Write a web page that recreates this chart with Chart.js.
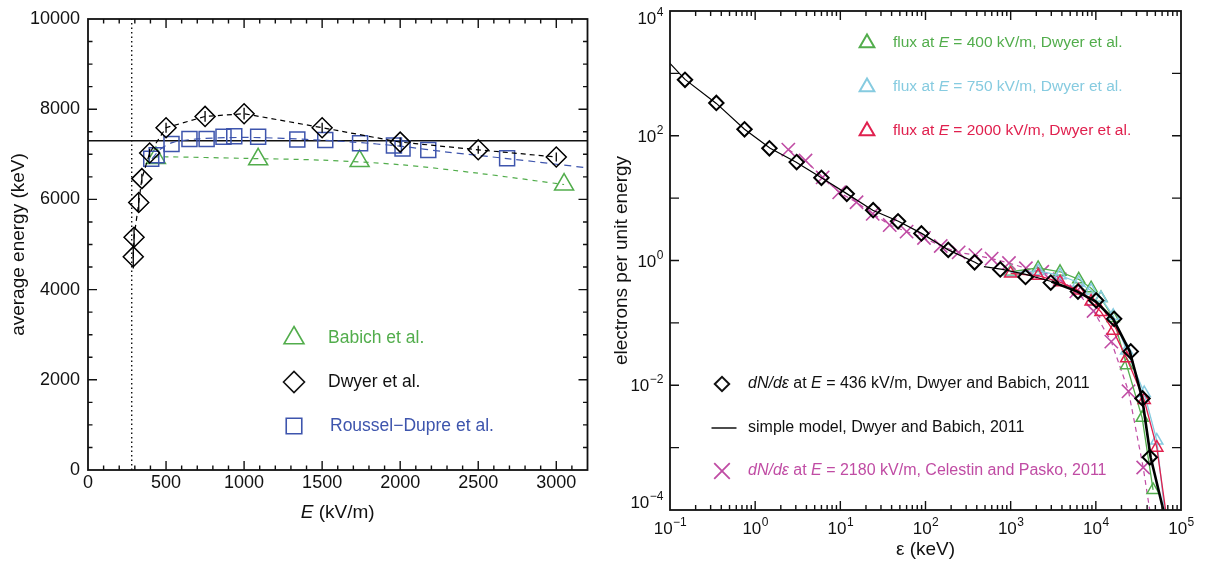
<!DOCTYPE html>
<html>
<head>
<meta charset="utf-8">
<script src="https://cdn.jsdelivr.net/npm/chart.js@4.4.1/dist/chart.umd.min.js"></script>
<style>
  body { margin: 0; background: #fff; width: 1207px; height: 565px; overflow: hidden; position: relative; }
  canvas { position: absolute; top: 0; }
  #left { left: 0; }
  #right { left: 600px; }
</style>
</head>
<body>
<canvas id="left" width="600" height="565"></canvas>
<canvas id="right" width="607" height="565"></canvas>
<script>
const FONT = '"Liberation Sans", Arial, Helvetica, sans-serif';

// ---------- left panel: average energy vs field ----------
const leftXTicks = [0, 500, 1000, 1500, 2000, 2500, 3000];
const leftYTicks = [0, 2000, 4000, 6000, 8000, 10000];
const thresholdField = 280;      // dotted vertical line (kV/m)
const simpleModelEnergy = 7300;  // solid horizontal line (keV)

const babichField = [435, 1090, 1740, 3050];
const babichEnergy = [6920, 6890, 6850, 6330];
const babichFitField = [420, 500, 1000, 1500, 2000, 2500, 3050];
const babichFitEnergy = [6940, 6945, 6910, 6870, 6770, 6580, 6330];

const dwyerField = [290, 295, 325, 345, 395, 500, 750, 1000, 1500, 2000, 2500, 3000];
const dwyerEnergy = [4730, 5160, 5930, 6460, 7030, 7590, 7840, 7900, 7590, 7270, 7100, 6940];
const dwyerErr = [260, 220, 200, 110, 90, 110, 120, 130, 110, 100, 90, 100];

const rousselField = [405, 440, 535, 650, 760, 868, 937, 1090, 1341, 1520, 1743, 1960, 2015, 2180, 2685];
const rousselEnergy = [6900, 6980, 7230, 7340, 7340, 7390, 7400, 7390, 7330, 7315, 7245, 7195, 7130, 7095, 6910];
const rousselFitField = [410, 470, 550, 700, 900, 1100, 1400, 1700, 2000, 2300, 2700, 3200];
const rousselFitEnergy = [6900, 7130, 7270, 7340, 7370, 7370, 7330, 7270, 7180, 7050, 6900, 6700];

// ---------- right panel: spectra ----------
const epsDecades = [-1, 0, 1, 2, 3, 4, 5];
const dnLabelDecades = [-4, -2, 0, 2, 4];
const dnTickDecades = [-4, -3, -2, -1, 0, 1, 2, 3, 4];

const dwyerEps = [0.15, 0.35, 0.75, 1.47, 3.07, 6.0, 11.9, 24.3, 47.6, 89.5, 185, 377, 755, 1494, 2956, 6170, 10100, 16400, 25700, 35300, 43000];
const dwyerDnde = [789, 336, 127, 63, 37.8, 21.2, 11.7, 6.4, 4.25, 2.72, 1.48, 0.936, 0.72, 0.546, 0.442, 0.318, 0.229, 0.116, 0.0349, 0.00615, 0.0007];

const modelEps = [0.1, 0.15, 0.35, 0.75, 1.5, 3, 6, 12, 24, 48, 90, 185, 380, 424, 450, 485, 800, 1500, 3000, 6000, 10000, 16000, 25000, 35000, 44000, 62000, 68000];
const modelDnde = [1450, 800, 330, 127, 63, 38, 21.2, 11.7, 6.4, 4.25, 2.72, 1.48, 0.94, 0.86, null, 0.8, 0.72, 0.6, 0.46, 0.32, 0.22, 0.115, 0.035, 0.0062, 0.0007, 0.0001, 0.00005];

const celestinEps = [2.45, 3.9, 6.2, 9.7, 15.5, 24, 38, 60, 96, 151, 245, 385, 598, 955, 1510, 2350, 3770, 5900, 9400, 15200, 24200, 36000];
const celestinDnde = [60, 40, 21.5, 12.4, 8.6, 5.6, 3.7, 2.9, 2.3, 1.71, 1.35, 1.22, 1.07, 0.91, 0.75, 0.66, 0.5, 0.32, 0.155, 0.05, 0.008, 0.00048];
const celestinTail = [44000, 0.00008];

const flux400Eps = [1000, 2100, 3800, 6300, 8800, 11500, 16000, 23000, 35000, 47000];
const flux400 = [0.66, 0.76, 0.66, 0.50, 0.36, 0.25, 0.12, 0.021, 0.0030, 0.00021];
const flux750Eps = [1000, 2100, 3800, 6300, 8800, 11500, 16000, 23000, 37000, 52000];
const flux750 = [0.64, 0.68, 0.58, 0.44, 0.33, 0.25, 0.13, 0.036, 0.0075, 0.0013];
const flux750Tail = [64000, 0.0001];
const flux2000Eps = [1000, 2100, 3800, 6300, 8800, 11500, 16000, 23000, 37000, 52000];
const flux2000 = [0.62, 0.57, 0.45, 0.33, 0.22, 0.15, 0.075, 0.027, 0.0058, 0.0010];
const flux2000Tail = [66000, 0.0001];

const GREEN = '#52ad4c', BLUE = '#3e55ad', CYAN = '#86cbe0', RED = '#e0204e', MAGENTA = '#c04ca4';

const pts = (xs, ys) => xs.map((x, i) => ({ x, y: ys[i] }));

// ---------- helpers ----------
function drawMarker(ctx, kind, x, y, r, color, lw) {
  ctx.save();
  ctx.strokeStyle = color;
  ctx.lineWidth = lw;
  ctx.beginPath();
  if (kind === 'triangle') {
    ctx.moveTo(x, y - r);
    ctx.lineTo(x + 0.866 * r, y + 0.5 * r);
    ctx.lineTo(x - 0.866 * r, y + 0.5 * r);
    ctx.closePath();
  } else if (kind === 'diamond') {
    ctx.moveTo(x - r, y); ctx.lineTo(x, y - r); ctx.lineTo(x + r, y); ctx.lineTo(x, y + r);
    ctx.closePath();
  } else if (kind === 'square') {
    const h = 0.707 * r;
    ctx.rect(x - h, y - h, 2 * h, 2 * h);
  } else if (kind === 'cross') {
    const h = 0.707 * r;
    ctx.moveTo(x - h, y - h); ctx.lineTo(x + h, y + h);
    ctx.moveTo(x + h, y - h); ctx.lineTo(x - h, y + h);
  } else if (kind === 'line') {
    ctx.moveTo(x - r, y); ctx.lineTo(x + r, y);
  }
  ctx.stroke();
  ctx.restore();
}

function richText(ctx, parts, x, y, size, color, align) {
  ctx.save();
  ctx.fillStyle = color;
  ctx.textBaseline = 'middle';
  ctx.textAlign = 'left';
  let w = 0;
  for (const [t, it] of parts) {
    ctx.font = (it ? 'italic ' : '') + size + 'px ' + FONT;
    w += ctx.measureText(t).width;
  }
  if (align === 'center') x -= w / 2;
  for (const [t, it] of parts) {
    ctx.font = (it ? 'italic ' : '') + size + 'px ' + FONT;
    ctx.fillText(t, x, y);
    x += ctx.measureText(t).width;
  }
  ctx.restore();
}

// frame on all four sides with inward ticks
const frameTicks = {
  id: 'frameTicks',
  afterDatasetsDraw(chart, args, o) {
    const { ctx, chartArea: a, scales: { x: sx, y: sy } } = chart;
    ctx.save();
    ctx.strokeStyle = '#111';
    ctx.lineWidth = 1.4;
    ctx.beginPath();
    const vx = (vals, len) => vals.forEach(v => {
      const p = sx.getPixelForValue(v);
      if (p < a.left + 1 || p > a.right - 1) return;
      ctx.moveTo(p, a.bottom); ctx.lineTo(p, a.bottom - len);
      ctx.moveTo(p, a.top); ctx.lineTo(p, a.top + len);
    });
    const vy = (vals, len) => vals.forEach(v => {
      const p = sy.getPixelForValue(v);
      if (p < a.top + 1 || p > a.bottom - 1) return;
      ctx.moveTo(a.left, p); ctx.lineTo(a.left + len, p);
      ctx.moveTo(a.right, p); ctx.lineTo(a.right - len, p);
    });
    vx(o.xMajor, o.major); vx(o.xMinor, o.minor);
    vy(o.yMajor, o.major); vy(o.yMinor, o.minor);
    ctx.stroke();
    ctx.lineWidth = 1.8;
    ctx.strokeRect(a.left, a.top, a.right - a.left, a.bottom - a.top);
    ctx.restore();
  }
};

// vertical error bars for one dataset
const errorBars = {
  id: 'errorBars',
  afterDatasetsDraw(chart, args, o) {
    if (!o.err) return;
    const ds = chart.data.datasets[o.dataset];
    const sx = chart.scales.x, sy = chart.scales.y;
    const ctx = chart.ctx;
    ctx.save();
    ctx.strokeStyle = '#000';
    ctx.lineWidth = 1.3;
    ctx.beginPath();
    ds.data.forEach((p, i) => {
      const px = sx.getPixelForValue(p.x);
      ctx.moveTo(px, sy.getPixelForValue(p.y - o.err[i]));
      ctx.lineTo(px, sy.getPixelForValue(p.y + o.err[i]));
    });
    ctx.stroke();
    ctx.restore();
  }
};

// in-plot legends and rich-text axis titles
const notes = {
  id: 'notes',
  afterDraw(chart, args, o) {
    const ctx = chart.ctx;
    const a = chart.chartArea;
    (o.items || []).forEach(it => {
      drawMarker(ctx, it.marker, it.mx, it.y, it.r, it.markerColor || it.color, it.lw || 1.6);
      richText(ctx, it.parts, it.tx, it.y, it.size, it.color);
    });
    if (o.xTitle) richText(ctx, o.xTitle, (a.left + a.right) / 2, o.xTitleY, 19, '#111', 'center');
  }
};

// 10^n tick labels with raised exponents
const powLabels = {
  id: 'powLabels',
  afterDraw(chart, args, o) {
    if (!o.x) return;
    const { ctx, chartArea: a, scales: { x: sx, y: sy } } = chart;
    const expText = e => (e < 0 ? '\u2212' + (-e) : String(e));
    const sizes = (e) => {
      ctx.font = '17px ' + FONT; const wb = ctx.measureText('10').width;
      ctx.font = '12px ' + FONT; const we = ctx.measureText(expText(e)).width;
      return [wb, we];
    };
    const put = (e, left, base) => {
      ctx.font = '17px ' + FONT; ctx.fillText('10', left, base);
      const wb = ctx.measureText('10').width;
      ctx.font = '12px ' + FONT; ctx.fillText(expText(e), left + wb + 0.5, base - 8);
    };
    ctx.save();
    ctx.fillStyle = '#111';
    ctx.textBaseline = 'alphabetic';
    ctx.textAlign = 'left';
    o.x.forEach(e => {
      const p = sx.getPixelForValue(Math.pow(10, e));
      const [wb, we] = sizes(e);
      put(e, p - (wb + we) / 2, a.bottom + 24);
    });
    o.y.forEach(e => {
      let p = sy.getPixelForValue(Math.pow(10, e));
      p = Math.min(Math.max(p, a.top + 7), a.bottom - 8);
      const [wb, we] = sizes(e);
      put(e, a.left - 7 - wb - we, p + 6);
    });
    ctx.restore();
  }
};

// ---------- left chart ----------
const leftXMinor = [];
for (let v = 100; v < 3200; v += 100) if (v % 500) leftXMinor.push(v);
const leftYMinor = [];
for (let v = 500; v < 10000; v += 500) if (v % 2000) leftYMinor.push(v);

new Chart(document.getElementById('left'), {
  type: 'scatter',
  data: {
    datasets: [
      { data: pts(dwyerField, dwyerEnergy), showLine: true, borderColor: '#000', borderWidth: 1.2,
        borderDash: [5, 4], pointStyle: 'rectRot', pointRadius: 10, pointBorderWidth: 1.5,
        pointBorderColor: '#000', pointBackgroundColor: 'rgba(0,0,0,0)' },
      { data: pts(rousselField, rousselEnergy), showLine: false, pointStyle: 'rect', pointRadius: 10.6,
        pointBorderWidth: 1.5, pointBorderColor: BLUE, pointBackgroundColor: 'rgba(0,0,0,0)' },
      { data: pts(babichField, babichEnergy), showLine: false, pointStyle: 'triangle', pointRadius: 11,
        pointBorderWidth: 1.5, pointBorderColor: GREEN, pointBackgroundColor: 'rgba(0,0,0,0)' },
      { data: pts(rousselFitField, rousselFitEnergy), showLine: true, borderColor: BLUE, borderWidth: 1.2,
        borderDash: [7, 5], pointRadius: 0, tension: 0.3 },
      { data: pts(babichFitField, babichFitEnergy), showLine: true, borderColor: GREEN, borderWidth: 1.2,
        borderDash: [5, 5], pointRadius: 0, tension: 0.3 },
      { data: [{ x: 0, y: simpleModelEnergy }, { x: 3200, y: simpleModelEnergy }], showLine: true,
        borderColor: '#111', borderWidth: 1.4, pointRadius: 0 },
      { data: [{ x: thresholdField, y: 0 }, { x: thresholdField, y: 10000 }], showLine: true,
        borderColor: '#111', borderWidth: 1.4, borderDash: [1.5, 3], pointRadius: 0 }
    ]
  },
  options: {
    responsive: false,
    animation: false,
    devicePixelRatio: 1,
    layout: { padding: { left: 0, right: 10, top: 19, bottom: 0 } },
    scales: {
      x: {
        type: 'linear', min: 0, max: 3200,
        grid: { display: false, drawTicks: false }, border: { display: false },
        ticks: { font: { family: FONT, size: 18 }, color: '#111', padding: 2, maxRotation: 0,
          callback: v => String(v) },
        afterBuildTicks: s => { s.ticks = leftXTicks.map(v => ({ value: v })); },
        afterFit: s => { s.height = 95; }
      },
      y: {
        type: 'linear', min: 0, max: 10000,
        grid: { display: false, drawTicks: false }, border: { display: false },
        ticks: { font: { family: FONT, size: 18 }, color: '#111', padding: 8,
          callback: v => String(v) },
        title: { display: true, text: 'average energy (keV)', color: '#111',
          font: { family: FONT, size: 19 }, padding: { top: 7, bottom: 0 } },
        afterBuildTicks: s => { s.ticks = leftYTicks.map(v => ({ value: v })); },
        afterFit: s => { s.width = 88; }
      }
    },
    plugins: {
      legend: { display: false },
      tooltip: { enabled: false },
      frameTicks: { xMajor: leftXTicks, xMinor: leftXMinor, yMajor: leftYTicks, yMinor: leftYMinor, major: 9, minor: 4.5 },
      errorBars: { dataset: 0, err: dwyerErr },
      notes: {
        items: [
          { marker: 'triangle', mx: 294, tx: 328, y: 338, r: 11.5, color: GREEN, size: 17.5, parts: [['Babich et al.', false]] },
          { marker: 'diamond', mx: 294, tx: 328, y: 382, r: 10.5, color: '#111', size: 17.5, parts: [['Dwyer et al.', false]] },
          { marker: 'square', mx: 294, tx: 330, y: 426, r: 11, color: BLUE, size: 17.5, parts: [['Roussel\u2212Dupre et al.', false]] }
        ],
        xTitle: [['E', true], [' (kV/m)', false]],
        xTitleY: 513
      }
    }
  },
  plugins: [frameTicks, errorBars, notes]
});

// ---------- right chart ----------
const epsMajor = epsDecades.map(e => Math.pow(10, e));
const epsMinor = [];
for (let d = -1; d < 5; d++) for (let m = 2; m <= 9; m++) epsMinor.push(m * Math.pow(10, d));
const dnMajor = dnTickDecades.map(e => Math.pow(10, e));

const tailRadius = (n, r) => ctx => (ctx.dataIndex < n ? r : 0);

new Chart(document.getElementById('right'), {
  type: 'scatter',
  data: {
    datasets: [
      { data: pts(dwyerEps, dwyerDnde), showLine: false, pointStyle: 'rectRot', pointRadius: 7.2,
        pointBorderWidth: 2, pointBorderColor: '#000', pointBackgroundColor: 'rgba(0,0,0,0)' },
      { data: pts(modelEps, modelDnde), showLine: true, borderColor: '#000', borderWidth: 1.2,
        pointRadius: 0, spanGaps: false,
        segment: { borderWidth: c => (c.p0.parsed.x >= 3000 ? 2.6 : 1.2) } },
      { data: pts(flux2000Eps, flux2000).concat([{ x: flux2000Tail[0], y: flux2000Tail[1] }]), showLine: true,
        borderColor: RED, borderWidth: 1.3, pointStyle: 'triangle', pointRadius: tailRadius(flux2000Eps.length, 7),
        pointBorderWidth: 1.5, pointBorderColor: RED, pointBackgroundColor: 'rgba(0,0,0,0)' },
      { data: pts(flux750Eps, flux750).concat([{ x: flux750Tail[0], y: flux750Tail[1] }]), showLine: true,
        borderColor: CYAN, borderWidth: 1.3, pointStyle: 'triangle', pointRadius: tailRadius(flux750Eps.length, 7),
        pointBorderWidth: 1.5, pointBorderColor: CYAN, pointBackgroundColor: 'rgba(0,0,0,0)' },
      { data: pts(flux400Eps, flux400), showLine: true,
        borderColor: GREEN, borderWidth: 1.3, pointStyle: 'triangle', pointRadius: 7,
        pointBorderWidth: 1.5, pointBorderColor: GREEN, pointBackgroundColor: 'rgba(0,0,0,0)' },
      { data: pts(celestinEps, celestinDnde).concat([{ x: celestinTail[0], y: celestinTail[1] }]), showLine: true,
        borderColor: MAGENTA, borderWidth: 1.2, borderDash: [5, 4],
        pointStyle: 'crossRot', pointRadius: tailRadius(celestinEps.length, 9.4),
        pointBorderWidth: 1.6, pointBorderColor: MAGENTA }
    ]
  },
  options: {
    responsive: false,
    animation: false,
    devicePixelRatio: 1,
    layout: { padding: { left: 0, right: 26, top: 5, bottom: 0 } },
    scales: {
      x: {
        type: 'logarithmic', min: 0.1, max: 1e5,
        grid: { display: false, drawTicks: false }, border: { display: false },
        ticks: { display: false },
        title: { display: true, text: '\u03b5 (keV)', color: '#111',
          font: { family: FONT, size: 19 }, padding: { top: 0, bottom: 4 } },
        afterBuildTicks: s => { s.ticks = epsMajor.map(v => ({ value: v })); },
        afterFit: s => { s.height = 55; }
      },
      y: {
        type: 'logarithmic', min: 1e-4, max: 1e4,
        grid: { display: false, drawTicks: false }, border: { display: false },
        ticks: { display: false },
        title: { display: true, text: 'electrons per unit energy', color: '#111',
          font: { family: FONT, size: 19 }, padding: { top: 10, bottom: 0 } },
        afterBuildTicks: s => { s.ticks = dnMajor.map(v => ({ value: v })); },
        afterFit: s => { s.width = 70; }
      }
    },
    plugins: {
      legend: { display: false },
      tooltip: { enabled: false },
      frameTicks: { xMajor: epsMajor, xMinor: epsMinor, yMajor: dnMajor, yMinor: [], major: 9, minor: 5 },
      powLabels: { x: epsDecades, y: dnLabelDecades },
      notes: {
        items: [
          { marker: 'triangle', mx: 267, tx: 293, y: 43, r: 8.5, color: GREEN, size: 15.5, lw: 2,
            parts: [['flux at ', false], ['E', true], [' = 400 kV/m, Dwyer et al.', false]] },
          { marker: 'triangle', mx: 267, tx: 293, y: 87, r: 8.5, color: CYAN, size: 15.5, lw: 2,
            parts: [['flux at ', false], ['E', true], [' = 750 kV/m, Dwyer et al.', false]] },
          { marker: 'triangle', mx: 267, tx: 293, y: 131, r: 8.5, color: RED, size: 15.5, lw: 2,
            parts: [['flux at ', false], ['E', true], [' = 2000 kV/m, Dwyer et al.', false]] },
          { marker: 'diamond', mx: 122, tx: 148, y: 384, r: 7.2, color: '#111', size: 16, lw: 2,
            parts: [['dN/d\u03b5', true], [' at ', false], ['E', true], [' = 436 kV/m, Dwyer and Babich, 2011', false]] },
          { marker: 'line', mx: 124, tx: 148, y: 428, r: 12.5, color: '#111', size: 16, lw: 1.5,
            parts: [['simple model, Dwyer and Babich, 2011', false]] },
          { marker: 'cross', mx: 122, tx: 148, y: 471, r: 11, color: MAGENTA, size: 16, lw: 1.8,
            parts: [['dN/d\u03b5', true], [' at ', false], ['E', true], [' = 2180 kV/m, Celestin and Pasko, 2011', false]] }
        ]
      }
    }
  },
  plugins: [frameTicks, powLabels, notes]
});
</script>
</body>
</html>
